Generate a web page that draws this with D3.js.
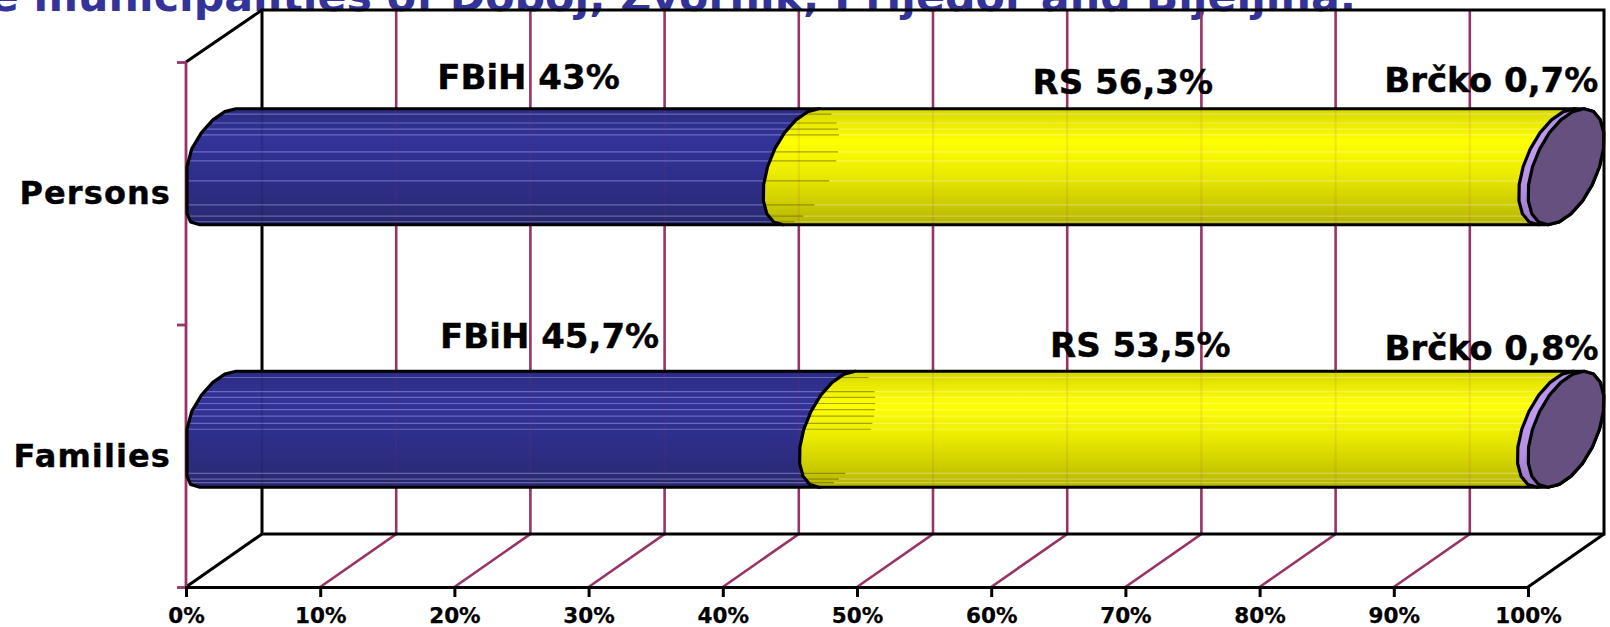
<!DOCTYPE html>
<html><head><meta charset="utf-8">
<script src="https://cdn.jsdelivr.net/npm/d3@7"></script>
<style>html,body{margin:0;padding:0;background:#fff;overflow:hidden}svg{display:block}text{font-family:"DejaVu Sans",sans-serif;font-weight:bold}</style>
</head><body>
<script>
const categories = ["Persons", "Families"];
const seriesNames = ["FBiH", "RS", "Brčko"];
const fbih = [43, 45.7];
const rs = [56.3, 53.5];
const brcko = [0.7, 0.8];
const xTicks = [0,10,20,30,40,50,60,70,80,90,100];
const titleText = "e municipalities of Doboj, Zvornik, Prijedor and Bijeljina.";
// faint highlight streaks in the cylinder surface (fraction of bar height)
const streaks = [
  [.046,.123,.175,.226,.372,.45,.622,.828,.926,.974],
  [.054,.175,.226,.278,.33,.387,.45,.5,.88,.93,.96]
];
// label placement relative to segment middle / bar centre
const labelDx = [[54,-18,-32],[57,-18,-31]];
const labelDy = [[-78,-73,-75],[-81,-72,-69]];

const W=1610,H=627;
const plotL=186,plotR=1528,plotB=587,plotT=62,depthX=76,depthY=53;
const barR=58, shear=18, rx=33.5, startShift=6;
const grid="#993366";

const x=d3.scaleLinear().domain([0,100]).range([plotL,plotR]);
const y=d3.scaleBand().domain(categories).range([plotT,plotB]).paddingInner(0.56).paddingOuter(0.28);
const yEdge=d3.scaleLinear().domain([0,2]).range([plotB,plotT]);
const cx=v=>x(v)+depthX/2;
const cy=c=>y(c)+y.bandwidth()/2-depthY/2;

const svg=d3.select("body").append("svg").attr("width",W).attr("height",H);
const defs=svg.append("defs");
function grad(id,stops){
  const g=defs.append("linearGradient").attr("id",id).attr("x1",0).attr("x2",0).attr("y1",0).attr("y2",1);
  stops.forEach(s=>g.append("stop").attr("offset",s[0]).attr("stop-color",s[1]));
}
grad("gBlue",[[0,"#2c2c82"],[.26,"#333399"],[.6,"#2e2e8a"],[.88,"#2b2b78"],[1,"#28286e"]]);
grad("gYellow",[[0,"#d6d600"],[.1,"#e6e600"],[.28,"#ffff00"],[.55,"#ecec00"],[.8,"#cfcf00"],[1,"#b4b400"]]);
grad("gPurple",[[0,"#a988dd"],[.3,"#c19cf2"],[.7,"#b48fe4"],[1,"#9877c4"]]);

// title (clipped by the top of the frame)
svg.append("text").attr("x",1356).attr("y",11).attr("text-anchor","end")
  .attr("font-size",42.75).attr("fill","#333399").text(titleText);

// back wall and floor
const frame=svg.append("g").attr("fill","none").attr("stroke","#000").attr("stroke-width",3);
const backX=v=>x(v)+depthX, backTop=plotT-depthY+1, backBottom=plotB-depthY;
const line=d3.line();
const gridG=svg.append("g").attr("stroke",grid).attr("stroke-width",2.6).attr("fill","none");
gridG.selectAll("path.g").data(xTicks.slice(1,-1)).join("path").attr("class","g")
  .attr("d",d=>line([[x(d),plotB],[backX(d),backBottom],[backX(d),backTop]]));
frame.raise();
frame.append("path").attr("stroke-linejoin","miter").attr("d",line([[backX(0),backBottom],[backX(0),backTop],[backX(100),backTop],[backX(100),backBottom],[backX(0),backBottom]]));
frame.append("path").attr("d",line([[x(0),plotT],[backX(0),backTop]]));
frame.append("path").attr("d",line([[x(0),plotB],[backX(0),backBottom]]));
frame.append("path").attr("d",line([[x(100),plotB],[backX(100),backBottom]]));

// left wall axis
const yAxis=svg.append("g").attr("transform",`translate(${plotL},0)`)
  .call(d3.axisLeft(yEdge).ticks(2).tickSize(9).tickFormat(""));
yAxis.selectAll("path,line").attr("stroke",grid).attr("stroke-width",2.8);
yAxis.select("path").attr("d",line([[0,plotT],[0,plotB]]));

// bottom axis
const xAxis=svg.append("g").attr("transform",`translate(0,${plotB})`)
  .call(d3.axisBottom(x).tickValues(xTicks).tickSize(10).tickPadding(11).tickFormat(d=>d+"%"));
xAxis.selectAll("path,line").attr("stroke","#000").attr("stroke-width",3);
xAxis.selectAll("text").attr("font-size",21.5).attr("fill","#000").attr("stroke","#000").attr("stroke-width",.25);

// category labels
const catAxis=svg.append("g").attr("transform",`translate(171,0)`)
  .call(d3.axisLeft(y).tickSize(0).tickPadding(0));
catAxis.select("path").remove();
catAxis.selectAll("text").attr("font-size",32).attr("letter-spacing",1.1).attr("fill","#000")
  .attr("stroke","#000").attr("stroke-width",.4).attr("dy",11);

// cylinder outline, deliberately coarse like the source rendering
const angles=d3.range(0,360,18);
const pt=(c,yc,a)=>[c+rx*Math.cos(a)+shear*Math.sin(a), yc-barR*Math.sin(a)];
function arcPts(c,yc,from,to){
  return angles.concat([90,270])
    .map(a=>((a-from)%360+360)%360).filter(a=>a<=to-from).sort((p,q)=>p-q)
    .map(a=>pt(c,yc,(a+from)*Math.PI/180));
}
function body(c0,c1,yc,clampLeft){
  let l=arcPts(c0,yc,90,270);      // top -> left -> bottom
  if(clampLeft) l=l.map(p=>[Math.max(p[0],plotL+1),p[1]]);
  const r=arcPts(c1,yc,270,450);     // bottom -> right -> top
  return d3.line()(l.concat(r))+"Z";
}
const arcX=(c,f)=>{const s=1-2*f;return c+shear*s+rx*Math.sqrt(1-s*s);};

const segFill=["url(#gBlue)","url(#gYellow)","url(#gPurple)"];
categories.forEach((cat,i)=>{
  const yc=cy(cat), t=yc-barR, b=yc+barR;
  const g=svg.append("g");
  const v0=fbih[i], v1=fbih[i]+rs[i], end=v1+brcko[i];
  const segs=[[0,v0],[v0,v1],[v1,end]];
  segs.forEach((s,k)=>{
    const d=body(cx(s[0])-(k===0?startShift:0),cx(s[1]),yc,k===0);
    const id=`clip${i}${k}`;
    defs.append("clipPath").attr("id",id).append("path").attr("d",d);
    g.append("path").attr("d",d).attr("fill",segFill[k]);
    const lg=g.append("g").attr("clip-path",`url(#${id})`).attr("stroke-width",1.2);
    if(k===0){
      streaks[i].forEach(f=>lg.append("line").attr("x1",cx(0)-50).attr("x2",cx(v0)+50)
        .attr("y1",t+f*2*barR).attr("y2",t+f*2*barR).attr("stroke","rgba(190,190,255,.4)"));
    }
    if(k===1){
      streaks[i].forEach(f=>{
        const yy=t+f*2*barR, mx=arcX(cx(v0),f);
        lg.append("line").attr("x1",cx(v0)-50).attr("x2",mx).attr("y1",yy).attr("y2",yy).attr("stroke","rgba(110,110,0,.6)");
        lg.append("line").attr("x1",mx).attr("x2",cx(v1)+50).attr("y1",yy).attr("y2",yy).attr("stroke","rgba(255,255,255,.3)");
      });
    }
    // faint show-through of the back wall
    if(k<2){
      lg.selectAll("line.w").data(xTicks.slice(0,-1)).join("line").attr("class","w")
        .attr("x1",d=>backX(d)).attr("x2",d=>backX(d)).attr("y1",t).attr("y2",b)
        .attr("stroke",d=>d===0?"#000":grid).attr("stroke-width",2.2).attr("opacity",.1);
    }
    g.append("path").attr("d",d).attr("fill","none").attr("stroke","#000").attr("stroke-width",3.2).attr("stroke-linejoin","round");
  });
  // end cap
  const cap=d3.line()(arcPts(cx(end),yc,0,359.9))+"Z";
  g.append("path").attr("d",cap).attr("fill","#66507f").attr("stroke","#000").attr("stroke-width",3.2).attr("stroke-linejoin","round");
});

// data labels
const segVals=[fbih,rs,brcko];
categories.forEach((cat,i)=>{
  let acc=0;
  seriesNames.forEach((n,k)=>{
    const v=segVals[k][i], mid=acc+v/2; acc+=v;
    svg.append("text").attr("x",x(mid)+labelDx[i][k]).attr("y",cy(cat)+labelDy[i][k])
      .attr("text-anchor","middle").attr("font-size",34).attr("fill","#000")
      .attr("stroke","#000").attr("stroke-width",.4)
      .text(`${n} ${String(v).replace(".",",")}%`);
  });
});
</script>
</body></html>
